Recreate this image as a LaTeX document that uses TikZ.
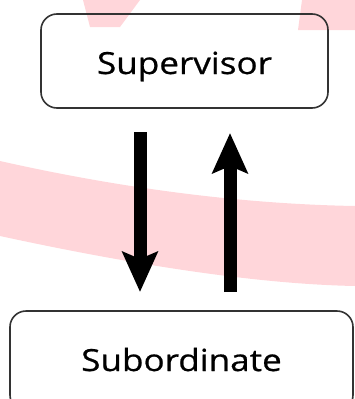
\documentclass[tikz,border=0pt]{standalone}
\usepackage{fontspec}
\setmainfont{Open Sans}
\usetikzlibrary{arrows.meta}
\definecolor{wmpink}{RGB}{255,214,218}
\definecolor{boxline}{RGB}{51,51,51}
\tikzset{
  rolebox/.style={draw=boxline, line width=1.6pt, rounded corners=16pt,
    inner sep=0pt, text height=26pt, text depth=0pt,
    font=\fontsize{30.5}{36}\selectfont\addfontfeature{FakeBold=0.6}},
  flow/.style={line width=13pt, -{Stealth[length=40pt, width=35pt, inset=7pt]}},
}
\begin{document}
\begin{tikzpicture}[x=1pt, y=-1pt]
  \useasboundingbox (0,0) rectangle (355,399);
  \clip (0,0) rectangle (355,399);
  % faint background strokes
  \fill[wmpink] (83,0) -- (140,0) -- (120,27) -- (90,27) -- cycle;
  \fill[wmpink] (302,0) -- (355,0) -- (355,30) -- (298,30) -- cycle;
  \fill[wmpink] (0,161) .. controls (120,188) and (240,204) .. (355,206)
    -- (355,286) .. controls (250,284) and (120,262) .. (0,236) -- cycle;
  % the two roles
  \node[rolebox, minimum width=287pt, minimum height=94pt] (sup)
    at (184.5,61) {\scalebox{1.15}[1]{Supervisor}};
  \node[rolebox, text height=20pt, minimum width=343pt, minimum height=100pt] (sub)
    at (181.5,361) {\scalebox{1.15}[1]{Subordinate}};
  % instructions down, feedback up
  \coordinate (downstart) at (140,132);
  \coordinate (downend) at (140,292);
  \coordinate (upstart) at (230,292);
  \coordinate (upend) at (230,133);
  \draw[flow] (downstart) -- (downend);
  \draw[flow] (upstart) -- (upend);
\end{tikzpicture}
\end{document}
